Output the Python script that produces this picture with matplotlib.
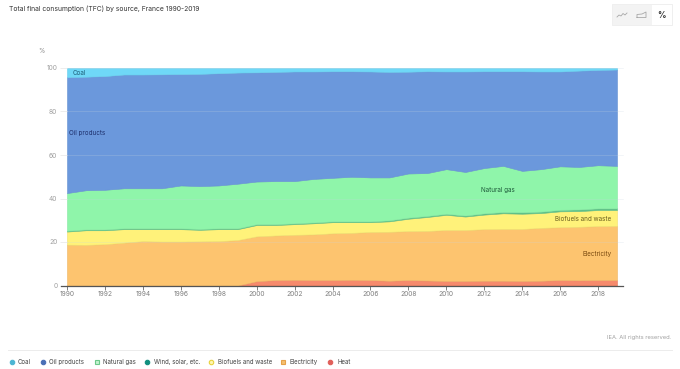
import numpy as np
import matplotlib
matplotlib.use("Agg")
import matplotlib.pyplot as plt
from matplotlib.lines import Line2D
from matplotlib.patches import Rectangle

plt.rcParams["font.family"] = ["Inter", "DejaVu Sans"]

W, H = 680, 369

years = list(range(1990, 2020))
heat = [0, 0, 0, 0, 0, 0, 0, 0, 0, 0, 2.0, 2.5, 2.6, 2.5, 2.5, 2.6, 2.5, 2.2, 2.5, 2.3,
        2.1, 2.1, 2.2, 2.2, 2.1, 2.2, 2.5, 2.4, 2.5, 2.5]
electricity = [18.8, 18.7, 19.0, 19.7, 20.4, 20.2, 20.2, 20.3, 20.4, 20.9, 20.6, 20.5, 20.7, 21.0, 21.5,
               21.6, 22.1, 22.5, 22.5, 22.8, 23.4, 23.4, 23.7, 23.8, 23.9, 24.3, 24.3, 24.6, 24.8, 24.9]
biofuels = [6.0, 6.7, 6.4, 6.2, 5.5, 5.7, 5.7, 5.3, 5.5, 5.0, 5.2, 4.8, 4.9, 5.1, 5.1,
            4.9, 4.5, 4.8, 5.7, 6.4, 7.0, 6.2, 6.7, 7.2, 7.0, 6.8, 7.3, 7.2, 7.4, 7.3]
wind = [0.4, 0.4, 0.4, 0.4, 0.4, 0.4, 0.4, 0.4, 0.4, 0.4, 0.4, 0.4, 0.4, 0.4, 0.4,
        0.4, 0.4, 0.5, 0.5, 0.5, 0.5, 0.5, 0.6, 0.6, 0.7, 0.7, 0.7, 0.8, 0.8, 0.8]
gas = [17.3, 18.0, 18.2, 18.4, 18.4, 18.4, 19.7, 19.7, 19.7, 20.5, 19.6, 19.8, 19.4, 20.0, 20.0,
       20.5, 20.2, 19.7, 20.3, 19.7, 20.5, 20.0, 20.8, 21.2, 19.0, 19.5, 20.0, 19.5, 19.8, 19.5]
oil = [53.3, 52.2, 52.3, 52.3, 52.3, 52.4, 51.2, 51.6, 51.6, 51.1, 50.2, 50.2, 50.4, 49.4, 49.0,
       48.5, 48.7, 48.5, 46.8, 46.8, 44.9, 46.2, 44.5, 43.5, 45.8, 44.9, 43.6, 44.3, 43.8, 44.3]
coal = [4.2, 4.0, 3.7, 3.0, 3.0, 2.9, 2.8, 2.7, 2.4, 2.1, 2.0, 1.8, 1.6, 1.6, 1.5,
        1.5, 1.6, 1.8, 1.7, 1.5, 1.6, 1.6, 1.5, 1.5, 1.5, 1.6, 1.6, 1.2, 0.9, 0.7]

fill_colors = ["#f68a6c", "#fdc46f", "#fff27a", "#5fc088", "#8ff5aa", "#6b98dc", "#6fd8f7"]
edge_colors = ["#e57a5c", "#eeb563", "#f0e06c", "#5fc088", "#84e8a0", "#6490d2", "#66cdec"]
y_ticks = [0, 20, 40, 60, 80, 100]
x_ticks = list(range(1990, 2019, 2))

legend_names = ["Coal", "Oil products", "Natural gas", "Wind, solar, etc.", "Biofuels and waste", "Electricity", "Heat"]
legend_colors = ["#4cb5d3", "#4a6fb5", "#6cc98a", "#11907f", "#e8d23c", "#e5a24a", "#e0605a"]
legend_fills = ["#4cb5d3", "#4a6fb5", "#c4f2d0", "#11907f", "#fff6b0", "#f5c070", "#e0605a"]
legend_marker = ["o", "o", "s", "o", "o", "s", "o"]
legend_mx = [11.5, 42.7, 97, 147, 211, 283, 330]
legend_tx = [18, 49, 103, 154, 218, 289, 337]


def px(x, y):
    # pixel position to figure fraction
    return x / W, 1 - y / H


fig = plt.figure(figsize=(W / 100, H / 100), dpi=100)
ax = fig.add_axes([67 / W, 1 - 285.5 / H, 550 / W, 217.5 / H])

polys = ax.stackplot(years, heat, electricity, biofuels, wind, gas, oil, coal, colors=fill_colors, linewidth=0)
for p, c in zip(polys, edge_colors):
    p.set_edgecolor(c)
    p.set_linewidth(0.4)

ax.set_xlim(1990, 2019)
ax.set_ylim(0, 100)
for s in ax.spines.values():
    s.set_visible(False)
ax.set_yticks(y_ticks)
ax.set_xticks(x_ticks)
ax.tick_params(axis="y", length=5, width=0.5, color="#e6e6e6", labelsize=4.8, labelcolor="#a0a0a0", pad=2)
ax.tick_params(axis="x", length=3, width=0.6, color="#666666", labelsize=4.8, labelcolor="#808080", pad=1)

# gridlines run on past the plot on the right, baseline in dark
for v in y_ticks[1:]:
    ax.plot([1990, 2019.3], [v, v], color="#c9d3e0", lw=0.4, alpha=0.4, clip_on=False, zorder=3)
ax.plot([1989.7, 2019.3], [0, 0], color="#555555", lw=0.9, clip_on=False, zorder=4)

ax.text(1990.3, 97.6, "Coal", fontsize=4.5, color="#1d5f78", va="center")
ax.text(1990.1, 70, "Oil products", fontsize=4.5, color="#1d2f6b", va="center")
ax.text(2011.85, 44, "Natural gas", fontsize=4.5, color="#1e5a3a", va="center")
ax.text(2018.7, 30.8, "Biofuels and waste", fontsize=4.5, color="#6b6020", va="center", ha="right")
ax.text(2018.7, 14.7, "Electricity", fontsize=4.5, color="#7a4a10", va="center", ha="right")

fig.text(*px(9, 9), "Total final consumption (TFC) by source, France 1990-2019",
         fontsize=4.85, color="#333333", va="center")
fig.text(*px(41, 51), "%", fontsize=4.5, color="#888888", va="center", ha="center")
fig.text(*px(671.5, 338), "IEA. All rights reserved.", fontsize=4.2, color="#a0a0a0", va="center", ha="right")

# line under the chart and legend row
fig.add_artist(Line2D([8 / W, 672 / W], [1 - 349.5 / H] * 2, color="#ececec", lw=0.7))
for name, c, f, m, mx, tx in zip(legend_names, legend_colors, legend_fills, legend_marker, legend_mx, legend_tx):
    fig.add_artist(Line2D([mx / W], [1 - 362 / H], marker=m, ms=3.2, mew=0.8, mec=c, mfc=f, ls="none"))
    fig.text(tx / W, 1 - 362 / H, name, fontsize=4.4, color="#444444", va="center")

# chart type buttons, top right
fig.add_artist(Rectangle(px(612, 25), 60 / W, 21 / H, transform=fig.transFigure, fc="#ffffff", ec="#ececec", lw=0.6))
fig.add_artist(Rectangle(px(612.5, 24.5), 39 / W, 20 / H, transform=fig.transFigure, fc="#f3f3f3", ec="none"))
fig.add_artist(Line2D([617 / W, 619 / W, 621 / W, 623 / W, 625 / W, 627 / W],
                      [1 - y / H for y in (17, 15, 16, 13.5, 15, 13)], color="#a8a8a8", lw=0.6))
fig.add_artist(Line2D([637 / W, 637 / W, 642 / W, 646 / W, 646 / W, 637 / W],
                      [1 - y / H for y in (17.5, 14.5, 14, 12, 17.5, 17.5)], color="#a8a8a8", lw=0.6))
fig.text(*px(661, 15), "%", fontsize=6, fontweight="bold", color="#333333", va="center", ha="center")

fig.savefig("out.png", dpi=100)
